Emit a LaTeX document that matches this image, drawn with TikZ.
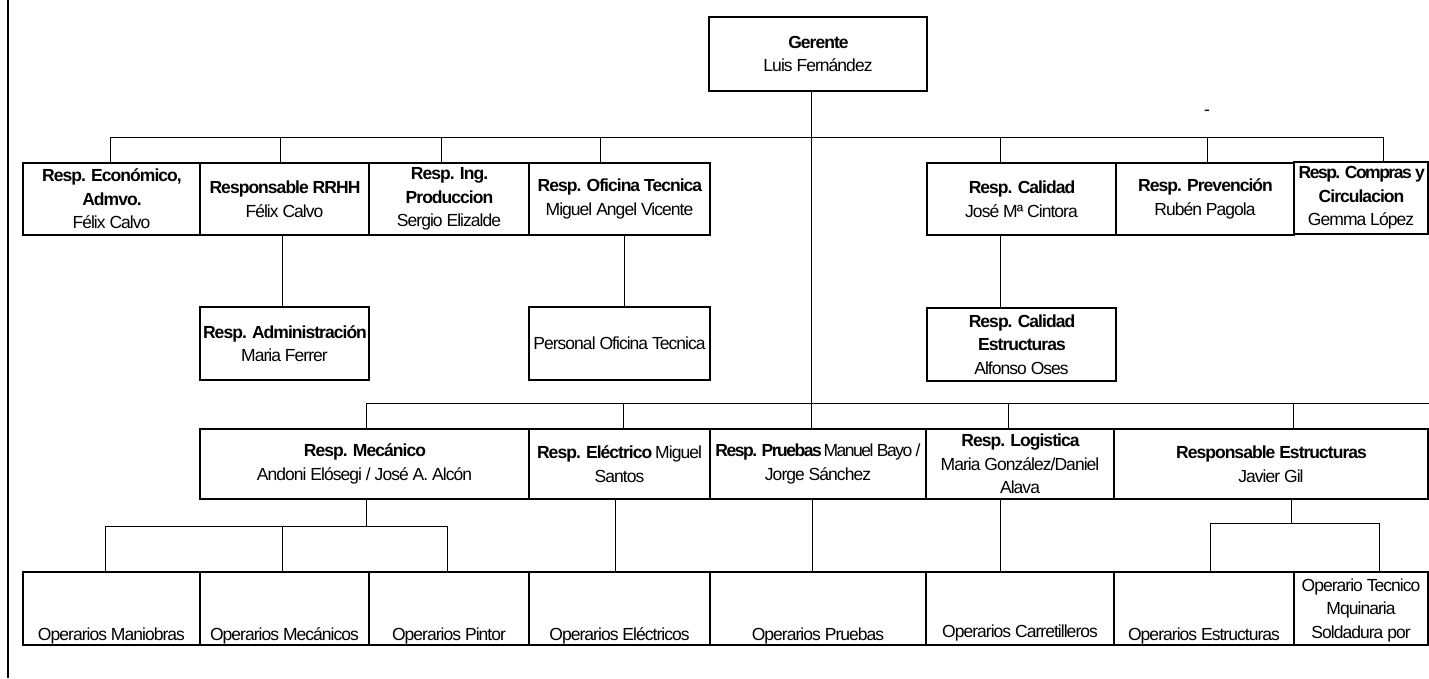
\documentclass[tikz,border=0pt]{standalone}
\usepackage{fontspec}
\setmainfont{Liberation Sans}[LetterSpace=-5.5]
\newcommand\orgfs{\fontsize{17.5}{23.5}\selectfont}
\newcommand\tightfs{\addfontfeature{LetterSpace=-8.5}}
\begin{document}
\begin{tikzpicture}[x=1pt,y=-1pt,
  box/.style={draw,line width=2.5pt,inner sep=0pt,align=center,font=\orgfs},
  conn/.style={line width=1pt},
  lbl/.style={inner sep=0pt,align=center,font=\orgfs}]
\useasboundingbox (0,0) rectangle (1429,678);
\draw[line width=2pt] (8,0) -- (8,678);
% Gerente
\node[box,minimum width=218pt,minimum height=74pt] (ger) at (818,54) {\textbf{Gerente}\\Luis Fernández};
\node[lbl] (dash) at (1207,113) {-};
% top row
\node[box,minimum width=177pt,minimum height=72pt] (b1) at (111.5,199) {\textbf{Resp. Económico,}\\\textbf{Admvo.}\\Félix Calvo};
\node[box,minimum width=169pt,minimum height=72pt] (b2) at (284.5,199) {\textbf{Responsable RRHH}\\Félix Calvo};
\node[box,minimum width=160pt,minimum height=72pt] (b3) at (449,199) {\textbf{Resp. Ing.}\\\textbf{Produccion}\\Sergio Elizalde};
\node[box,minimum width=181pt,minimum height=72pt] (b4) at (619.5,199) {\textbf{Resp. Oficina Tecnica}\\Miguel Angel Vicente};
\node[box,minimum width=189pt,minimum height=72pt] (b5) at (1021.5,199) {\textbf{Resp. Calidad}\\José Mª Cintora};
\node[box,minimum width=178pt,minimum height=72pt] (b6) at (1205,199) {\textbf{Resp. Prevención}\\Rubén Pagola};
\node[box,minimum width=134pt,minimum height=72pt] (b7) at (1361,198) {{\tightfs\textbf{Resp. Compras y}}\\\textbf{Circulacion}\\Gemma López};
% second level
\node[box,minimum width=169pt,minimum height=73pt] (adm) at (284.5,343.5) {\textbf{Resp. Administración}\\Maria Ferrer};
\node[box,minimum width=181pt,minimum height=73pt] (per) at (619.5,343.5) {Personal Oficina Tecnica};
\node[box,minimum width=189pt,minimum height=73pt] (cal) at (1021.5,344.5) {\textbf{Resp. Calidad}\\\textbf{Estructuras}\\Alfonso Oses};
% middle row
\node[box,minimum width=329pt,minimum height=70pt] (m1) at (364.5,464) {\textbf{Resp. Mecánico}\\Andoni Elósegi / José A. Alcón};
\node[box,minimum width=181pt,minimum height=70pt] (m2) at (619.5,464) {\textbf{Resp. Eléctrico} Miguel\\Santos};
\node[box,minimum width=216pt,minimum height=70pt] (m3) at (818,464) {{\tightfs\textbf{Resp. Pruebas} Manuel Bayo /}\\Jorge Sánchez};
\node[box,minimum width=188pt,minimum height=70pt] (m4) at (1020,464) {\textbf{Resp. Logistica}\\Maria González/Daniel\\Alava};
\node[box,minimum width=314pt,minimum height=70pt] (m5) at (1271,464) {\textbf{Responsable Estructuras}\\Javier Gil};
% bottom row
\node[box,minimum width=177pt,minimum height=73pt] (o1) at (111.5,608.5) {};
\node[box,minimum width=169pt,minimum height=73pt] (o2) at (284.5,608.5) {};
\node[box,minimum width=160pt,minimum height=73pt] (o3) at (449,608.5) {};
\node[box,minimum width=181pt,minimum height=73pt] (o4) at (619.5,608.5) {};
\node[box,minimum width=216pt,minimum height=73pt] (o5) at (818,608.5) {};
\node[box,minimum width=188pt,minimum height=73pt] (o6) at (1020,608.5) {};
\node[box,minimum width=180pt,minimum height=73pt] (o7) at (1204,608.5) {};
\node[box,minimum width=134pt,minimum height=73pt] (o8) at (1361,608.5) {};
\node[lbl,anchor=south] (t1) at (111.5,644) {Operarios Maniobras};
\node[lbl,anchor=south] (t2) at (284.5,644) {Operarios Mecánicos};
\node[lbl,anchor=south] (t3) at (449,644) {Operarios Pintor};
\node[lbl,anchor=south] (t4) at (619.5,644) {Operarios Eléctricos};
\node[lbl,anchor=south] (t5) at (818,644) {Operarios Pruebas};
\node[lbl,anchor=south] (t6) at (1020,641) {Operarios Carretilleros};
\node[lbl,anchor=south] (t7) at (1204,644) {Operarios Estructuras};
\node[lbl,anchor=south] (t8) at (1361,642) {Operario Tecnico\\Mquinaria\\Soldadura por};
% bus coordinates
\coordinate (tb) at (0,137);
\coordinate (lb) at (0,403);
\coordinate (mb) at (0,526);
\coordinate (sb) at (0,523);
\coordinate (re) at (1429,403);
% connectors
\draw[conn] ([xshift=-7pt]ger.south) -- ([xshift=-7pt]m3.north);
\draw[conn] ([xshift=-1.5pt]b1.north |- tb) -- ([xshift=22pt]b7.north |- tb);
\foreach \n/\d in {b1/-1.5,b2/-4.5,b3/-8,b4/-19.5,b5/-21.5,b6/2,b7/22}
  \draw[conn] ([xshift=\d pt]\n.north) -- ([xshift=\d pt]\n.north |- tb);
\draw[conn] ([xshift=-2.5pt]b2.south) -- ([xshift=-2.5pt]adm.north);
\draw[conn] ([xshift=4.5pt]b4.south) -- ([xshift=4.5pt]per.north);
\draw[conn] ([xshift=-21.5pt]b5.south) -- ([xshift=-21.5pt]cal.north);
\draw[conn] ([xshift=1.5pt]m1.north |- lb) -- (re);
\foreach \n/\d in {m1/1.5,m2/3.5,m4/-12,m5/22}
  \draw[conn] ([xshift=\d pt]\n.north) -- ([xshift=\d pt]\n.north |- lb);
% mecanico subtree
\draw[conn] ([xshift=1.5pt]m1.south) -- ([xshift=1.5pt]m1.south |- mb);
\draw[conn] ([xshift=-6.5pt]o1.north |- mb) -- ([xshift=-2pt]o3.north |- mb);
\foreach \n/\d in {o1/-6.5,o2/-2.5,o3/-2}
  \draw[conn] ([xshift=\d pt]\n.north) -- ([xshift=\d pt]\n.north |- mb);
\draw[conn] ([xshift=-4.5pt]m2.south) -- ([xshift=-4.5pt]o4.north);
\draw[conn] ([xshift=-6pt]m3.south) -- ([xshift=-6pt]o5.north);
\draw[conn] ([xshift=-20pt]m4.south) -- ([xshift=-20pt]o6.north);
% estructuras subtree
\draw[conn] ([xshift=20pt]m5.south) -- ([xshift=20pt]m5.south |- sb);
\draw[conn] ([xshift=6pt]o7.north |- sb) -- ([xshift=18pt]o8.north |- sb);
\foreach \n/\d in {o7/6,o8/18}
  \draw[conn] ([xshift=\d pt]\n.north) -- ([xshift=\d pt]\n.north |- sb);
\end{tikzpicture}
\end{document}
